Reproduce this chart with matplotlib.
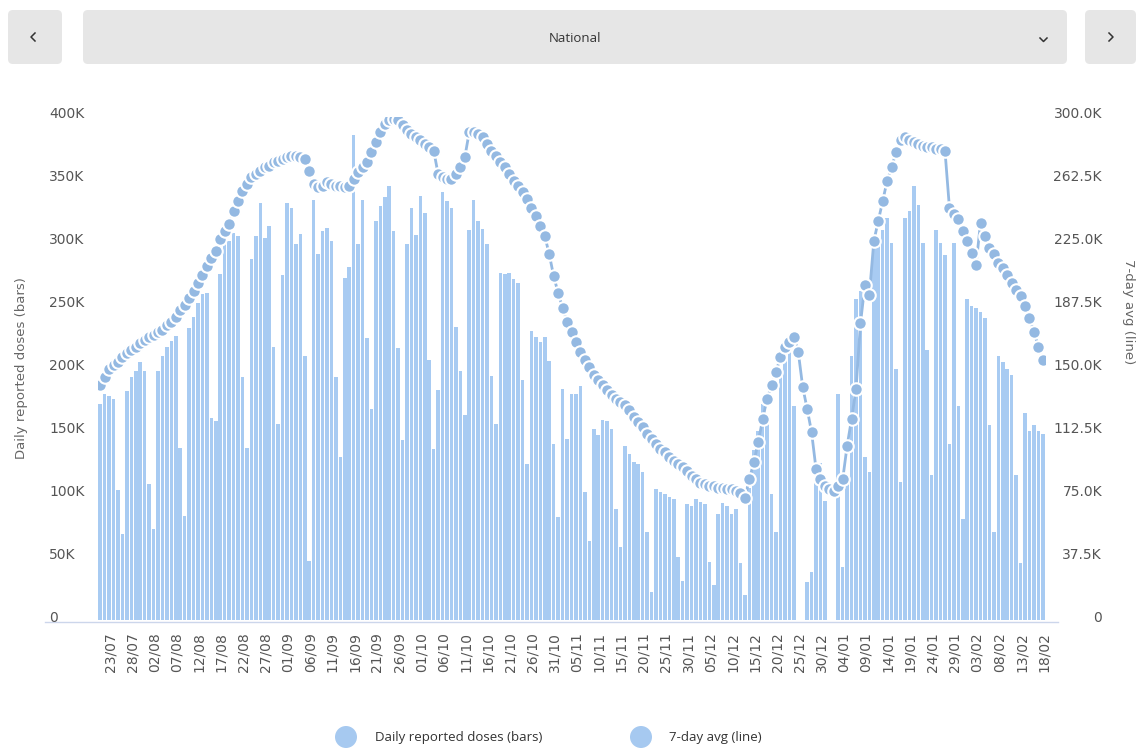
import datetime as dt
import numpy as np
import matplotlib
matplotlib.use("Agg")
import matplotlib.pyplot as plt
from matplotlib.patches import FancyBboxPatch, Circle
import matplotlib.transforms as mtransforms

# ---------------- data (thousands of doses) ----------------
start_date = dt.date(2021, 7, 21)

daily_doses_k = [
    172, 180, 178, 176, 103, 68,
    182, 193, 198, 205, 198, 108, 72,
    198, 210, 217, 222, 226, 137, 83,
    232, 241, 252, 259, 260, 161, 158,
    275, 305, 301, 308, 305, 193, 137,
    287, 305, 332, 304, 313, 217, 156,
    274, 332, 328, 299, 307, 210, 47,
    334, 291, 309, 312, 301, 193, 130,
    272, 281, 386, 299, 334, 224, 168,
    317, 329, 336, 345, 309, 216, 143,
    299, 328, 306, 337, 324, 207, 136,
    183, 340, 333, 328, 233, 198, 163,
    310, 334, 317, 311, 299, 194, 156,
    276, 275, 276, 271, 268, 191, 124,
    230, 225, 221, 225, 206, 140, 82,
    184, 144, 180, 180, 186, 102, 63,
    152, 147, 159, 158, 152, 88, 58,
    138, 132, 126, 124, 118, 70, 22,
    104, 102, 100, 98, 96, 50, 31,
    92, 91, 96, 94, 92, 46, 28,
    84, 93, 91, 84, 88, 45, 20,
    105, 135, 150, 172, 160, 100, 70,
    195, 210, 222, 170, 0, 0,
    30, 38, 110, 125, 95, 0, 0,
    180, 42, 110, 210, 255, 262, 130,
    118, 300, 300, 310, 320, 300, 200,
    110, 320, 325, 345, 330, 300, 215,
    115, 310, 300, 290, 140, 300, 170,
    80, 255, 250, 248, 245, 240, 155,
    70, 210, 205, 200, 195, 115, 45,
    165, 150, 155, 150, 148,
]

avg_7day_k = [
    140, 145, 150, 152, 154, 157, 159, 161, 163, 165,
    167, 169, 170, 172, 173, 176, 178, 181, 185, 188,
    192, 196, 201, 206, 211, 216, 220, 227, 232, 236,
    244, 250, 256, 260, 264, 266, 268, 270, 271, 273,
    274, 275, 276, 277, 277, 276, 275, 268, 260, 258,
    259, 261, 260, 259, 259, 258, 259, 263, 267, 270,
    273, 279, 285, 291, 296, 298, 299, 298, 295, 292,
    290, 288, 286, 284, 282, 280, 266, 264, 263, 263,
    266, 270, 276, 291, 291, 290, 288, 284, 280, 277,
    273, 270, 266, 262, 259, 255, 251, 246, 241, 235,
    229, 218, 205, 195, 186, 178, 172, 166, 160, 155,
    151, 146, 143, 140, 137, 134, 132, 130, 128, 125,
    121, 118, 115, 111, 108, 105, 102, 100, 97, 95,
    93, 91, 89, 86, 84, 82, 81, 80, 80, 79,
    79, 78, 78, 77, 76, 73, 84, 94, 106, 120,
    132, 140, 148, 157, 163, 166, 169, 160, 139, 126,
    112, 90, 84, 80, 78, 77, 80, 84, 104, 120,
    138, 177, 200, 194, 226, 238, 250, 262, 270, 279,
    286, 288, 286, 285, 284, 283, 282, 282, 281, 281,
    280, 246, 242, 239, 232, 226, 219, 212, 237, 229,
    222, 218, 213, 210, 206, 201, 197, 193, 187, 180,
    172, 163, 155,
]

left_ticks = [0, 50, 100, 150, 200, 250, 300, 350, 400]
left_tick_labels = ["0", "50K", "100K", "150K", "200K", "250K", "300K", "350K", "400K"]
right_ticks = [0, 37.5, 75, 112.5, 150, 187.5, 225, 262.5, 300]
right_tick_labels = ["0", "37.5K", "75.0K", "112.5K", "150.0K", "187.5K", "225.0K", "262.5K", "300.0K"]

n = len(daily_doses_k)
dates = [start_date + dt.timedelta(days=i) for i in range(n)]
date_labels = [d.strftime("%d/%m") for d in dates]

# ---------------- figure ----------------
W, H = 1142, 755
fig = plt.figure(figsize=(W / 100, H / 100), dpi=100)
fig.patch.set_facecolor("white")

BAR_C = "#a8cbf2"
LINE_C = "#94b9e2"
TXT = "#666666"
FONT = "DejaVu Sans"

ax_l, ax_r, ax_t, ax_b = 98, 1045, 117, 620
ax = fig.add_axes([ax_l / W, 1 - ax_b / H, (ax_r - ax_l) / W, (ax_b - ax_t) / H])
x = np.arange(n)
ax.bar(x, np.array(daily_doses_k) * 1000, width=0.8, color=BAR_C, linewidth=0, zorder=1)
ax.set_xlim(-0.5, n - 0.5)
ax.set_ylim(0, 400000)
for s in ax.spines.values():
    s.set_visible(False)

ax.set_yticks([v * 1000 for v in left_ticks])
ax.set_yticklabels(left_tick_labels)
ax.tick_params(axis="y", length=0, pad=(ax_l - 49) * 0.72, labelsize=10, labelcolor="#555555")
for lab in ax.get_yticklabels():
    lab.set_ha("left")
    lab.set_fontfamily(FONT)
    lab.set_transform(lab.get_transform() + mtransforms.ScaledTranslation(0, 4 / 100, fig.dpi_scale_trans))

tick_idx = list(range(2, n, 5))
ax.set_xticks(tick_idx)
ax.set_xticklabels([date_labels[i] for i in tick_idx], rotation=90)
ax.tick_params(axis="x", length=0, pad=9, labelsize=10, labelcolor="#555555")
for lab in ax.get_xticklabels():
    lab.set_fontfamily(FONT)
    lab.set_transform(lab.get_transform() + mtransforms.ScaledTranslation(1 / 100, 0, fig.dpi_scale_trans))

ax2 = ax.twinx()
ax2.set_ylim(0, 300000)
ax2.plot(x, np.array(avg_7day_k) * 1000, color=LINE_C, lw=2, marker="o", ms=9,
         mfc=LINE_C, mec="white", mew=1.5, zorder=3)
for s in ax2.spines.values():
    s.set_visible(False)
ax2.set_yticks([v * 1000 for v in right_ticks])
ax2.set_yticklabels(right_tick_labels)
ax2.tick_params(axis="y", length=0, pad=(1102 - ax_r) * 0.72, labelsize=10, labelcolor="#555555")
for lab in ax2.get_yticklabels():
    lab.set_ha("right")
    lab.set_fontfamily(FONT)
    lab.set_transform(lab.get_transform() + mtransforms.ScaledTranslation(0, 4 / 100, fig.dpi_scale_trans))

# axis titles
fig.text(22 / W, 1 - 368 / H, "Daily reported doses (bars)", rotation=90, ha="center", va="center",
         fontsize=9.5, color=TXT, family=FONT)
fig.text(1128 / W, 1 - 312 / H, "7-day avg (line)", rotation=270, ha="center", va="center",
         fontsize=9.5, color=TXT, family=FONT)

# overlay in pixel coordinates
ov = fig.add_axes([0, 0, 1, 1], zorder=-1)
ov.set_xlim(0, W)
ov.set_ylim(H, 0)
ov.axis("off")

# x axis line
ov.plot([45, 1058], [621.5, 621.5], color="#ccd6eb", lw=1)

# top selector
for (bx, bw) in [(8, 54), (83, 984), (1085, 51)]:
    ov.add_patch(FancyBboxPatch((bx, 10), bw, 54, boxstyle="round,pad=0,rounding_size=5",
                                facecolor="#e6e6e6", edgecolor="none"))
ov.text(575, 38, "National", ha="center", va="center", fontsize=9.5, color="#333333", family="Open Sans")
ov.plot([35, 31, 35], [33, 37, 41], color="#333333", lw=1.1)
ov.plot([1109, 1113, 1109], [33, 37, 41], color="#333333", lw=1.1)
ov.plot([1040, 1043.5, 1047], [38, 41.5, 38], color="#333333", lw=1.1)

# legend
ov.add_patch(Circle((346, 737), 11, facecolor="#a6c9f0", edgecolor="none"))
ov.text(375, 738, "Daily reported doses (bars)", ha="left", va="center", fontsize=9.5,
        color="#333333", family="Open Sans")
ov.add_patch(Circle((641, 737), 11, facecolor="#a6c9f0", edgecolor="none"))
ov.text(669, 738, "7-day avg (line)", ha="left", va="center", fontsize=9.5,
        color="#333333", family="Open Sans")

fig.savefig("out.png", dpi=100, facecolor="white")
